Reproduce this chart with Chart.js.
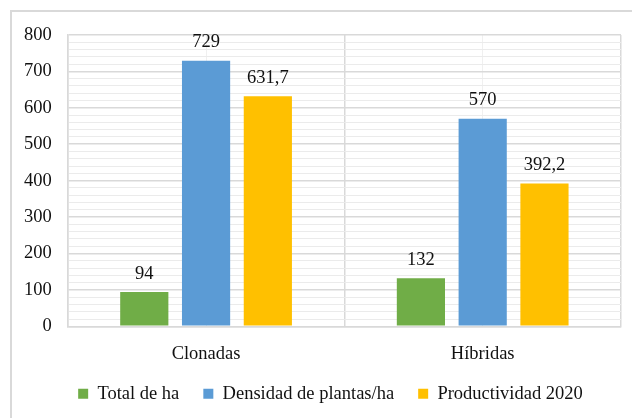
<!DOCTYPE html>
<html>
<head>
<meta charset="utf-8">
<script src="https://cdn.jsdelivr.net/npm/chart.js@4"></script>
<style>
  html, body { margin: 0; padding: 0; background: #fff; overflow: hidden; }
  #marco { position: absolute; left: 10px; top: 10px; width: 650px; height: 430px; border: 2px solid #d9d9d9; box-sizing: border-box; }
  #caja { position: absolute; left: 0; top: 0; width: 632px; height: 418px; }
</style>
</head>
<body>
<div id="marco"></div>
<div id="caja"><canvas id="myChart" width="632" height="418"></canvas></div>
<script>
// datos del grafico
const categorias = ["Clonadas", "Híbridas"];
const totalHa = [94, 132];
const densidad = [729, 570];
const productividad = [631.7, 392.2];
const etiquetasSeries = ["Total de ha", "Densidad de plantas/ha", "Productividad 2020"];
const coloresSeries = ["#70ad47", "#5b9bd5", "#ffc000"];

const fuente = "Liberation Serif, Times New Roman, Tinos, DejaVu Serif, Noto Serif, serif";
const tamano = 18.5;
Chart.defaults.font.family = fuente;
Chart.defaults.font.size = tamano;
Chart.defaults.color = "#111";

// escribe el valor encima de cada barra
const etiquetasBarras = {
    id: "etiquetasBarras",
    afterDatasetsDraw(chart) {
        const ctx = chart.ctx;
        ctx.save();
        ctx.font = tamano + "px " + fuente;
        ctx.fillStyle = "#111";
        ctx.textAlign = "center";
        ctx.textBaseline = "bottom";
        chart.data.datasets.forEach((ds, i) => {
            chart.getDatasetMeta(i).data.forEach((barra, j) => {
                const texto = String(ds.data[j]).replace(".", ",");
                ctx.fillText(texto, barra.x, barra.y - 9);
            });
        });
        ctx.restore();
    }
};

// corre la leyenda un poco a la derecha, como en el original
const moverLeyenda = {
    id: "moverLeyenda",
    afterLayout(chart) {
        chart.legend.left += 16;
        chart.legend.right += 16;
    }
};

const datos = {
    labels: categorias,
    datasets: [totalHa, densidad, productividad].map((serie, i) => ({
        label: etiquetasSeries[i],
        data: serie,
        backgroundColor: coloresSeries[i],
        borderWidth: 0,
        categoryPercentage: 0.67,
        barPercentage: 0.78
    }))
};

const grafico = new Chart(document.getElementById("myChart"), {
    type: "bar",
    data: datos,
    plugins: [etiquetasBarras, moverLeyenda],
    options: {
        responsive: false,
        animation: false,
        layout: { padding: { left: 8, right: 11, top: 35, bottom: 5 } },
        plugins: {
            tooltip: { enabled: false },
            legend: {
                position: "bottom",
                labels: { boxWidth: 10, boxHeight: 10, padding: 24, color: "#111" }
            }
        },
        scales: {
            x: {
                grid: { offset: true, color: "#d9d9d9", lineWidth: 1.5, drawTicks: false },
                border: { color: "#d9d9d9", width: 1.5 },
                ticks: { padding: 17, color: "#111" },
                afterFit: (escala) => { escala.height -= 22; }
            },
            x2: {
                type: "category",
                labels: categorias,
                position: "top",
                grid: { offset: false, color: "#f0f0f0", drawTicks: false },
                border: { display: false },
                ticks: { display: false }
            },
            y: {
                min: 0,
                max: 800,
                ticks: {
                    stepSize: 20,
                    autoSkip: false,
                    padding: 16,
                    color: "#111",
                    callback: (v) => (v % 100 === 0 ? v : "")
                },
                grid: {
                    drawTicks: false,
                    color: (c) => (c.tick && c.tick.value % 100 === 0 ? "#d9d9d9" : "#ebebeb"),
                    lineWidth: (c) => (c.tick && c.tick.value % 100 === 0 ? 1.5 : 1)
                },
                border: { color: "#d9d9d9", width: 1.5 }
            }
        }
    }
});
</script>
</body>
</html>
